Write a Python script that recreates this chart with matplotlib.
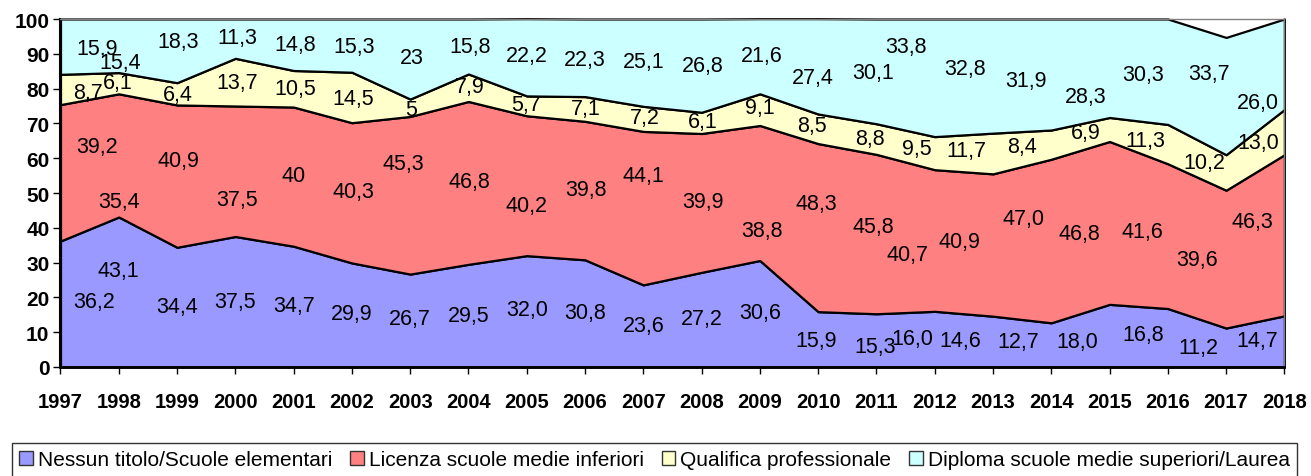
import matplotlib
matplotlib.use("Agg")
import matplotlib.pyplot as plt
from matplotlib.patches import Patch
import numpy as np

# ---------------- data ----------------
years = ["1997", "1998", "1999", "2000", "2001", "2002", "2003", "2004", "2005", "2006", "2007",
         "2008", "2009", "2010", "2011", "2012", "2013", "2014", "2015", "2016", "2017", "2018"]

nessun = [36.2, 43.1, 34.4, 37.5, 34.7, 29.9, 26.7, 29.5, 32.0, 30.8, 23.6,
          27.2, 30.6, 15.9, 15.3, 16.0, 14.6, 12.7, 18.0, 16.8, 11.2, 14.7]
licenza = [39.2, 35.4, 40.9, 37.5, 40.0, 40.3, 45.3, 46.8, 40.2, 39.8, 44.1,
           39.9, 38.8, 48.3, 45.8, 40.7, 40.9, 47.0, 46.8, 41.6, 39.6, 46.3]
qualifica = [8.7, 6.1, 6.4, 13.7, 10.5, 14.5, 5.0, 7.9, 5.7, 7.1, 7.2,
             6.1, 9.1, 8.5, 8.8, 9.5, 11.7, 8.4, 6.9, 11.3, 10.2, 13.0]
diploma = [15.9, 15.4, 18.3, 11.3, 14.8, 15.3, 23.0, 15.8, 22.2, 22.3, 25.1,
           26.8, 21.6, 27.4, 30.1, 33.8, 32.8, 31.9, 28.3, 30.3, 33.7, 26.0]

series_names = ["Nessun titolo/Scuole elementari", "Licenza scuole medie inferiori",
                "Qualifica professionale", "Diploma scuole medie superiori/Laurea"]
# labels that are shown without a decimal in the original (series index, year index)
integer_labels = {(1, 4), (2, 6), (3, 6)}

# ---------------- style / layout ----------------
colors = ["#9999FF", "#FF8080", "#FFFFCC", "#CCFFFF"]

# label offsets from the centre of each band (x in category units, y in percentage points)
lab_dx = [
    [0.57, 0, 0, 0, 0, 0, 0, 0, 0, 0, 0, 0, 0, -0.03, -0.03, -0.39, -0.57, -0.57, -0.55, -0.43, -0.48, -0.46],
    [0.62, 0, 0.02, 0.03, 0, 0.02, -0.12, 0.02, 0, 0.02, 0, 0.02, 0.03, -0.03, -0.05, -0.46, -0.57, -0.48, -0.51, -0.43, -0.5, -0.55],
    [0.48, -0.02, 0.02, 0.03, 0.03, 0.03, 0.02, 0.02, -0.02, 0.02, 0.02, 0.02, 0, -0.1, -0.12, -0.31, -0.45, -0.51, -0.41, -0.38, -0.38, -0.45],
    [0.62, 0.02, 0.02, 0.03, 0.03, 0.03, 0.02, 0.02, 0, 0, 0, 0.02, 0.03, -0.09, -0.05, -0.5, -0.48, -0.43, -0.41, -0.43, -0.29, -0.46],
]
lab_dy = [
    [0.6, 6.3, 0.3, 0, 0.2, 0.3, 0.5, 0, 0.4, 0.4, 0, 0.2, 0.5, -0.2, -1.9, 0.3, 0.2, 1.1, -1.8, 0.8, 0.1, 0.4],
    [7.7, -13.1, 4.6, -8.0, 0.3, 0.3, 9.0, 0.3, -5.6, 0.2, 9.4, 0.3, -10.9, 6.8, 2.3, -3.9, 0.9, 6.6, -2.9, 1.2, 0, 3.9],
    [-1.0, 0.3, -0.3, 0, 0, -0.2, -0.4, 0.3, 0.3, 0, 0.5, 0.3, 0.5, 0.9, 0.2, 1.2, 0.8, -0.4, -0.8, 0.9, 3.0, -3.1],
    [-0.4, -4.7, 2.6, 0.2, 0.2, -0.2, 0.3, 0.1, 0.4, -0.4, 0.2, -0.1, 0.1, -3.1, -0.3, 9.1, 2.2, -1.6, -8.0, -0.7, 6.4, -11.1],
]

plt.rcParams['font.family'] = ['Liberation Sans', 'DejaVu Sans']

W, H = 1311, 477
fig = plt.figure(figsize=(W / 100, H / 100), dpi=100)
ax = fig.add_axes([60.5 / W, (H - 368) / H, (1284.4 - 60.5) / W, (368 - 20) / H])

x = np.arange(len(years))
data = [nessun, licenza, qualifica, diploma]
polys = ax.stackplot(x, *data, colors=colors, edgecolor="black", linewidth=1.6)
for p in polys:
    p.set_clip_on(False)

ax.set_xlim(0, len(years) - 1)
ax.set_ylim(0, 100)
ax.set_yticks(np.arange(0, 101, 10))
ax.set_xticks(x)
ax.set_xticklabels(years)
ax.tick_params(axis="y", direction="out", length=5, width=1, pad=3, labelsize=15)
ax.tick_params(axis="x", direction="out", length=5, width=1, pad=13, labelsize=14.5)
for lab in ax.get_xticklabels() + ax.get_yticklabels():
    lab.set_fontweight("bold")

ax.spines["left"].set_color("black")
ax.spines["left"].set_linewidth(1.5)
ax.spines["bottom"].set_color("black")
ax.spines["bottom"].set_linewidth(2)
ax.spines["top"].set_color("#808080")
ax.spines["right"].set_color("#808080")
ax.spines["top"].set_linewidth(1)
ax.spines["right"].set_linewidth(1)

# data labels
cum = np.zeros(len(years))
for s, vals in enumerate(data):
    v = np.array(vals)
    centre = cum + v / 2
    for i in range(len(years)):
        if (s, i) in integer_labels:
            txt = f"{v[i]:.0f}"
        else:
            txt = f"{v[i]:.1f}".replace(".", ",")
        ax.text(x[i] + lab_dx[s][i], centre[i] + lab_dy[s][i], txt,
                ha="center", va="center", fontsize=15.5, color="black", zorder=5, clip_on=False)
    cum = cum + v

# legend
handles = [Patch(facecolor=c, edgecolor="#333333", linewidth=1) for c in colors]
leg = fig.legend(handles, series_names, loc="upper left",
                 bbox_to_anchor=(12 / W, 1 - 444 / H), bbox_transform=fig.transFigure,
                 ncol=4, fontsize=15, frameon=True, fancybox=False,
                 handlelength=0.65, handleheight=0.65, handletextpad=0.25,
                 columnspacing=0.85, borderpad=0.35, borderaxespad=0)
leg.get_frame().set_edgecolor("black")
leg.get_frame().set_linewidth(1)

fig.savefig("out.png", dpi=100)
